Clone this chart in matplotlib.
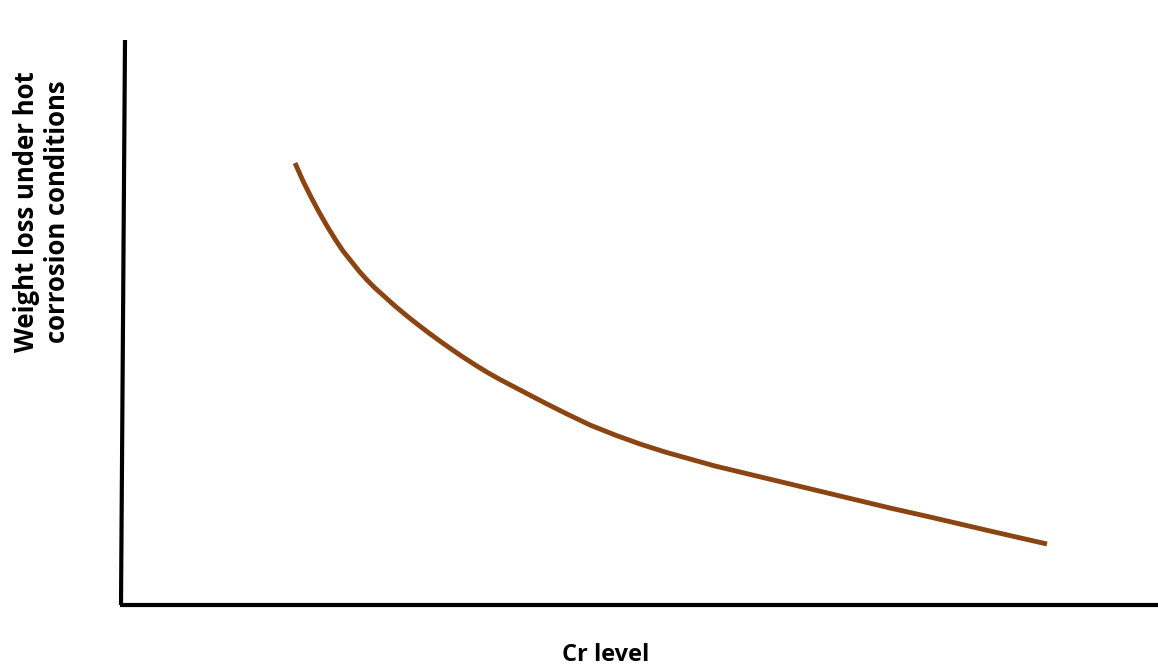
import matplotlib.pyplot as plt

# Cr level vs weight loss (arbitrary units)
cr_level = [174, 182, 190, 198, 206, 214, 222, 230, 238, 246, 254, 264, 274, 286,
            296, 307, 318, 329, 341, 354, 366, 379, 401, 424, 446, 469, 494, 519,
            544, 569, 594, 619, 669, 719, 769, 809, 869, 926]
weight_loss = [442, 424, 408, 393, 379, 366, 354, 344, 334, 325, 317, 308, 299, 289,
               281.1, 272.7, 264.6, 256.8, 248.6, 240.2, 232.8, 225.5, 214, 202, 191, 180,
               170, 161, 153, 146, 139, 133, 121, 109, 97, 88, 74, 61]

fig = plt.figure(figsize=(11.58, 6.67), dpi=100)
ax = fig.add_axes([121 / 1158, 62 / 667, 1037 / 1158, 565 / 667])
ax.set_xlim(0, 1037)
ax.set_ylim(0, 565)
ax.axis('off')

# axes drawn by hand (left one leans a little)
ax.plot([4, 0], [565, 0], color='black', lw=3, clip_on=False, solid_capstyle='butt')
ax.plot([-1.5, 1037], [0, 0], color='black', lw=3, clip_on=False, solid_capstyle='butt')

ax.plot(cr_level, weight_loss, color='#8B4513', lw=3.5,
        solid_capstyle='butt', solid_joinstyle='round')

fig.text(606 / 1158, 1 - 655 / 667, 'Cr level', ha='center', va='center',
         fontsize=17, fontweight='bold', family='Open Sans')
fig.text(42 / 1158, 1 - 212 / 667, 'Weight loss under hot\ncorrosion conditions',
         ha='center', va='center', rotation=90, fontsize=18.5, fontweight='bold',
         family='Open Sans', linespacing=1.2)

fig.savefig('out.png', dpi=100)
